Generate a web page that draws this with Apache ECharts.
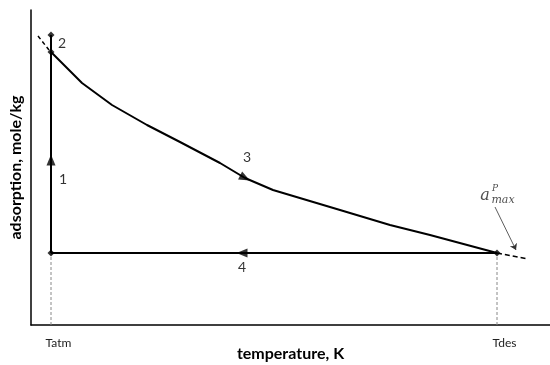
<!DOCTYPE html>
<html><head><meta charset="utf-8">
<script src="https://cdn.jsdelivr.net/npm/echarts@6/dist/echarts.min.js"></script>
<style>html,body{margin:0;padding:0;background:#fff}#c{width:550px;height:365px}</style>
</head><body><div id="c"></div>
<script>
// Abstract temperature (x) / adsorption (y) units
const tickPos = [20, 466];
const tickLabels = ['Tatm', 'Tdes'];
const tAtm = 20, tDes = 466;
const aLow = 72, aHigh = 273, aTop = 290;
const curveT = [20, 51, 81, 116, 149, 189, 214, 242, 309, 359, 399, 466];
const curveA = [273, 242, 220, 200, 183, 162, 147, 135, 115, 100, 90, 72];
const extUpT = [7, 18], extUpA = [289, 275];
const extLowT = [466, 497], extLowA = [72, 66];
const arrows = [[20, 165, 0], [214, 147, -117], [211, 72, 90]];
const stepLabels = [['1', 32, 146], ['2', 31, 282], ['3', 216, 168], ['4', 211, 58]];
const pointT = [20, 20, 20, 466], pointA = [290, 273, 72, 72];

const black = '#000';
const lineS = (data, extra) => Object.assign({
  type: 'line', data, symbol: 'none', silent: true,
  lineStyle: { color: black, width: 2 }, z: 3
}, extra || {});

const opt = {
  animation: false,
  grid: { left: 31, right: 0, top: 10, bottom: 40, containLabel: false, outerBoundsMode: 'none' },
  xAxis: {
    type: 'value', min: 0, max: 519,
    name: 'temperature, K', nameLocation: 'middle', nameGap: 21, nameMoveOverlap: false,
    nameTextStyle: { fontFamily: 'Lato', fontWeight: 'bold', fontSize: 16, color: black },
    axisLine: { lineStyle: { color: black, width: 1.5 } },
    axisTick: { show: false },
    splitLine: { show: false },
    axisLabel: {
      customValues: tickPos, margin: 12, padding: [0, 0, 0, 15],
      formatter: v => tickLabels[tickPos.indexOf(v)] || '',
      fontFamily: 'Lato', fontSize: 12, color: '#222'
    }
  },
  yAxis: {
    type: 'value', min: 0, max: 315,
    name: 'adsorption, mole/kg', nameLocation: 'middle', nameGap: 7, nameRotate: 90, nameMoveOverlap: false,
    nameTextStyle: { fontFamily: 'Lato', fontWeight: 'bold', fontSize: 16, color: black },
    axisLine: { show: true, lineStyle: { color: black, width: 1.5 } },
    axisTick: { show: false }, axisLabel: { show: false }, splitLine: { show: false }
  },
  series: [
    lineS([[tAtm, 0], [tAtm, aLow]], { lineStyle: { color: '#888', width: 1, type: [3, 2] }, z: 1 }),
    lineS([[tDes, 0], [tDes, aLow]], { lineStyle: { color: '#888', width: 1, type: [3, 2] }, z: 1 }),
    lineS([[tAtm, aLow], [tAtm, aTop]]),
    lineS(curveT.map((t, i) => [t, curveA[i]])),
    lineS([[tAtm, aLow], [tDes, aLow]]),
    lineS(extUpT.map((t, i) => [t, extUpA[i]]), { lineStyle: { color: black, width: 1.5, type: [4, 3] } }),
    lineS(extLowT.map((t, i) => [t, extLowA[i]]), { lineStyle: { color: black, width: 1.5, type: [5, 3] } }),
    { type: 'scatter', data: pointT.map((t, i) => [t, pointA[i]]), symbol: 'diamond', symbolSize: 7,
      itemStyle: { color: black }, z: 5, silent: true },
    { type: 'scatter', data: arrows.map(a => ({ value: [a[0], a[1]], symbolRotate: a[2] })),
      symbol: 'triangle', symbolSize: [9, 11], itemStyle: { color: black }, z: 5, silent: true },
    { type: 'scatter', data: stepLabels.map(s => ({ name: s[0], value: [s[1], s[2]] })),
      symbolSize: 0, silent: true,
      label: { show: true, position: 'inside', formatter: p => p.name,
        fontFamily: 'Lato', fontSize: 14, color: black } },
    { type: 'scatter', symbolSize: 0, silent: true,
      data: [
        { name: 'a', value: [454, 129], label: { fontStyle: 'italic', fontSize: 16, fontFamily: 'DejaVu Serif' } },
        { name: 'P', value: [464, 136], label: { fontStyle: 'italic', fontSize: 9, fontFamily: 'DejaVu Serif' } },
        { name: 'max', value: [472, 125], label: { fontStyle: 'italic', fontSize: 11, fontFamily: 'DejaVu Serif' } }
      ],
      label: { show: true, position: 'inside', formatter: p => p.name, color: '#222' } },
    { type: 'lines', coordinateSystem: 'cartesian2d', silent: true,
      data: [{ coords: [[464, 118], [485, 75]] }],
      symbol: ['none', 'arrow'], symbolSize: 6,
      lineStyle: { color: '#333', width: 0.8, opacity: 1 } }
  ]
};
echarts.init(document.getElementById('c')).setOption(opt);
</script></body></html>
